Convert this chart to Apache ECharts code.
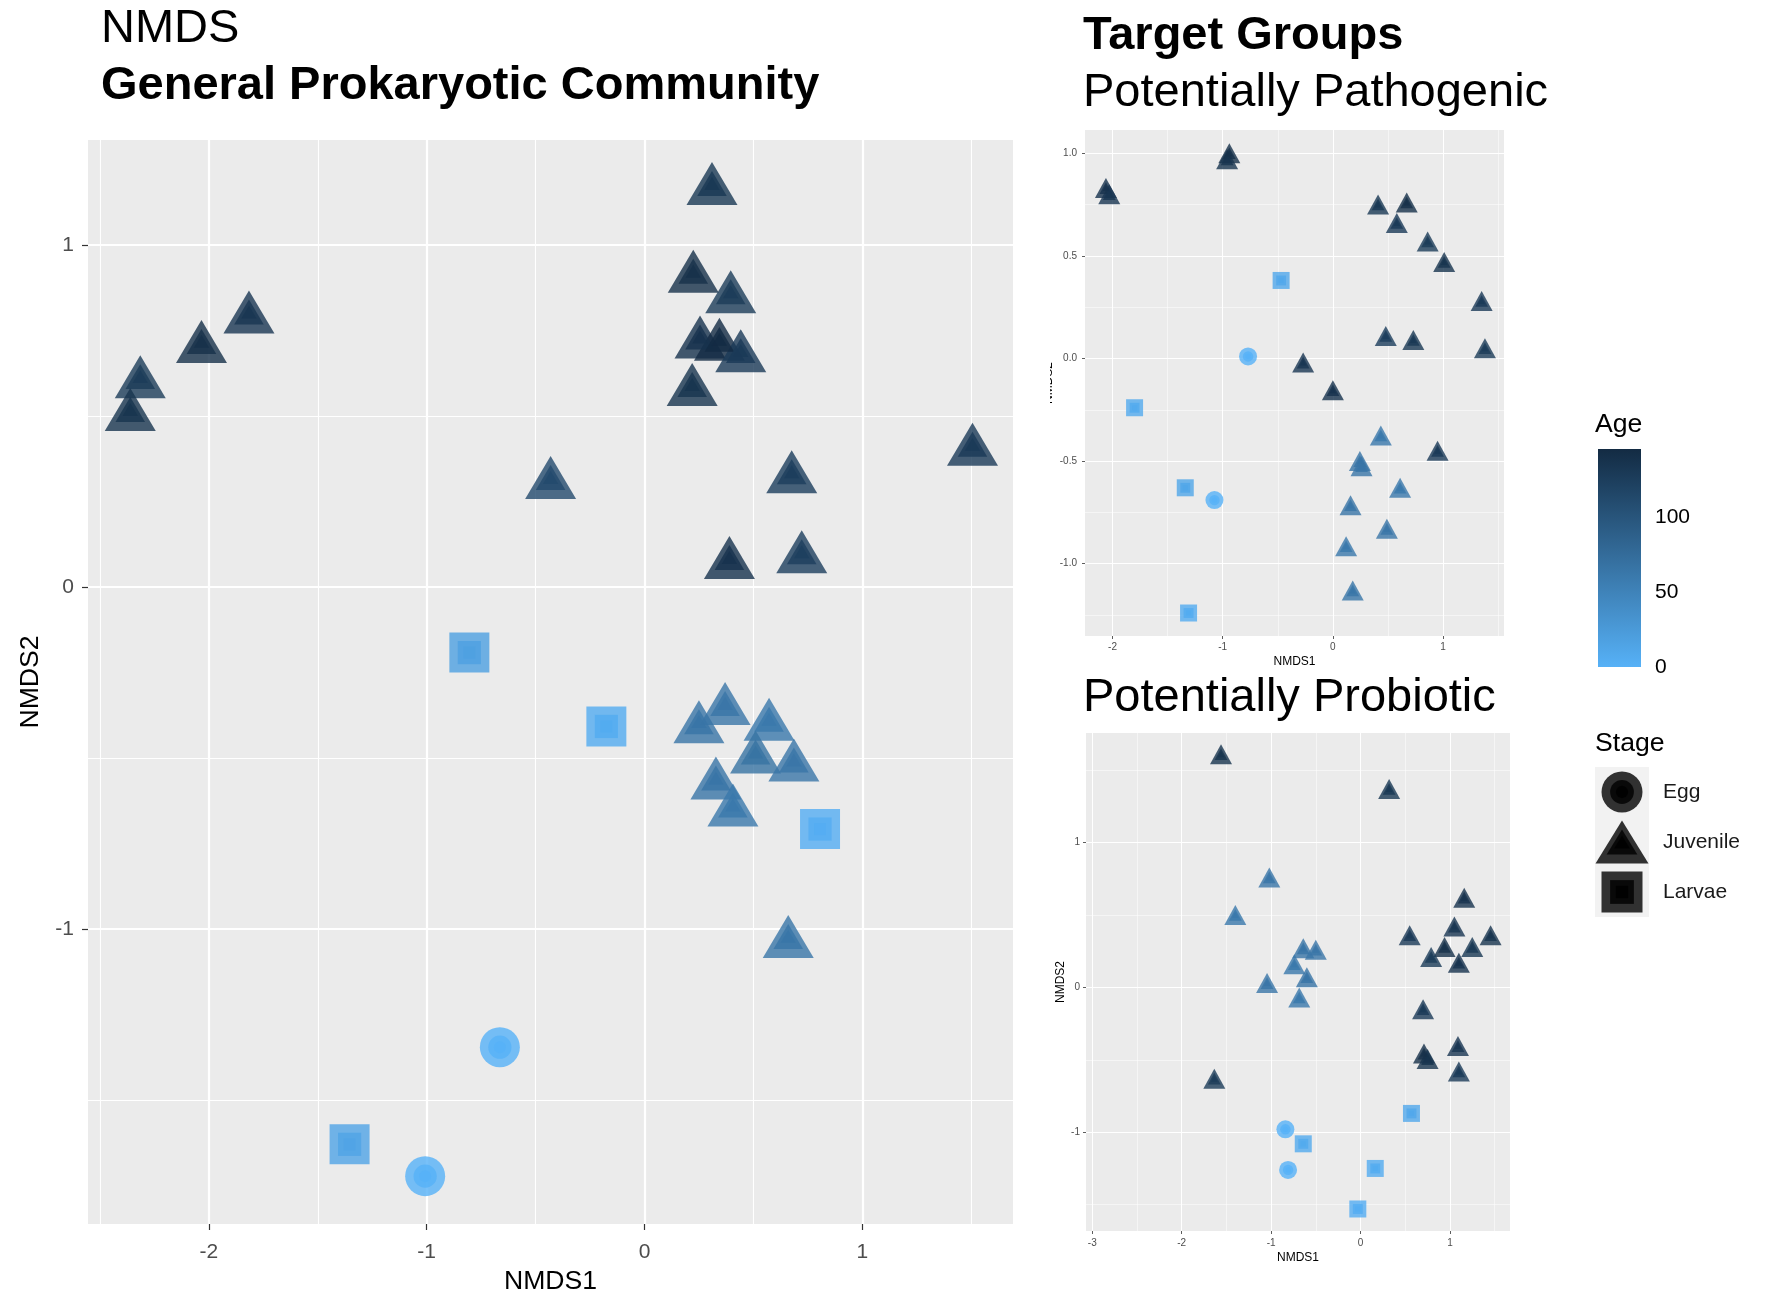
<!DOCTYPE html>
<html>
<head>
<meta charset="utf-8">
<title>NMDS</title>
<script src="https://cdn.jsdelivr.net/npm/echarts@6/dist/echarts.min.js"></script>
<style>
  html, body { margin: 0; background: #fff; }
  #chart { width: 1772px; height: 1306px; }
</style>
</head>
<body>
<div id="chart"></div>
<script>
// General Prokaryotic Community
const mainX = [0.31, 0.224, 0.396, 0.255, 0.344, 0.442, 0.219, -1.816, -2.034, -2.315, -2.361, -0.431, 0.676, 1.506, 0.39, 0.722,
  0.37, 0.25, 0.572, 0.51, 0.686, 0.328, 0.406, 0.66,
  -0.804, -0.175, 0.806, -1.354,
  -0.664, -1.007]
const mainY = [1.18, 0.923, 0.863, 0.731, 0.724, 0.691, 0.592, 0.804, 0.718, 0.615, 0.519, 0.32, 0.337, 0.417, 0.086, 0.103,
  -0.341, -0.394, -0.387, -0.483, -0.506, -0.559, -0.638, -1.022,
  -0.192, -0.408, -0.708, -1.63,
  -1.346, -1.723]
const mainAge = [132, 140, 128, 138, 146, 130, 136, 134, 140, 128, 136, 112, 126, 130, 138, 124,
  64, 66, 62, 68, 64, 66, 62, 65,
  18, 6, 4, 14,
  0, 0]

// Potentially Pathogenic
const pathX = [-2.06, -2.03, -0.94, -0.96, 0.41, 0.67, 0.58, 0.86, 1.01, 1.35, 0.48, 0.73, 1.38, -0.27, 0.0, 0.95,
  0.435, 0.245, 0.26, 0.61, 0.16, 0.49, 0.12, 0.18,
  -0.47, -1.80, -1.34, -1.31,
  -0.77, -1.075]
const pathY = [0.83, 0.80, 1.0, 0.97, 0.75, 0.76, 0.66, 0.57, 0.47, 0.28, 0.11, 0.09, 0.05, -0.02, -0.155, -0.45,
  -0.375, -0.50, -0.525, -0.63, -0.715, -0.83, -0.915, -1.13,
  0.38, -0.24, -0.63, -1.24,
  0.01, -0.69]
const pathAge = [138, 134, 140, 136, 132, 140, 130, 128, 136, 130, 126, 132, 128, 134, 138, 130,
  62, 66, 64, 62, 66, 64, 62, 65,
  10, 8, 12, 6,
  0, 0]

// Potentially Probiotic
const probX = [-1.56, 0.32, 1.16, 1.05, 0.55, 1.455, 0.94, 1.25, 0.79, 1.10, 0.70, 1.09, 0.71, 0.75, 1.10, -1.635,
  -1.02, -1.40, -0.64, -0.50, -0.74, -0.60, -1.045, -0.685,
  0.57, -0.64, 0.165, -0.03,
  -0.84, -0.81]
const probY = [1.61, 1.37, 0.62, 0.42, 0.36, 0.36, 0.28, 0.28, 0.21, 0.17, -0.15, -0.405, -0.457, -0.495, -0.58, -0.63,
  0.76, 0.50, 0.27, 0.26, 0.16, 0.07, 0.03, -0.07,
  -0.87, -1.08, -1.25, -1.53,
  -0.98, -1.26]
const probAge = [136, 132, 138, 134, 130, 136, 140, 132, 128, 138, 130, 134, 140, 136, 130, 128,
  64, 62, 66, 64, 62, 66, 64, 62,
  10, 8, 6, 4,
  0, 0]

// same sampling design in all three ordinations
const stages = [].concat(Array(24).fill('Juvenile'), Array(4).fill('Larvae'), Array(2).fill('Egg'))
const stageNames = ['Egg', 'Juvenile', 'Larvae']

// tick labels
const mainXTicks = [-2, -1, 0, 1]
const mainXMinor = [-2.5, -1.5, -0.5, 0.5, 1.5]
const mainYTicks = [-1, 0, 1]
const mainYMinor = [-1.5, -0.5, 0.5]
const pathXTicks = [-2, -1, 0, 1]
const pathXMinor = [-1.5, -0.5, 0.5, 1.5]
const pathYTicks = [-1, -0.5, 0, 0.5, 1]
const pathYMinor = [-1.25, -0.75, -0.25, 0.25, 0.75]
const probXTicks = [-3, -2, -1, 0, 1]
const probXMinor = [-2.5, -1.5, -0.5, 0.5, 1.5]
const probYTicks = [-1, 0, 1]
const probYMinor = [-1.5, -0.5, 0.5, 1.5]
const ageTicks = [0, 50, 100]
const ageMax = 146

const FONT = '"Liberation Sans", Arial, sans-serif'
const shapeOf = { Egg: 'circle', Juvenile: 'triangle', Larvae: 'rect' }
const layerScale = [1, 0.58, 0.3]

const toRows = (xs, ys, ages) => xs.map((x, i) => [x, ys[i], ages[i], stages[i]])

const pointLayers = (axisIdx, rows, sizes) => layerScale.map(k => ({
  type: 'scatter',
  xAxisIndex: axisIdx,
  yAxisIndex: axisIdx,
  data: rows,
  symbol: v => shapeOf[v[3]],
  symbolSize: v => {
    const s = sizes[v[3]]
    return Array.isArray(s) ? [s[0] * k, s[1] * k] : s * k
  },
  itemStyle: { opacity: 0.8 },
  silent: true
}))

// major axis + a second, hidden one that only carries the minor grid
const axisPair = (dim, grid, min, max, major, minor, o) => [
  {
    gridIndex: grid, type: 'value', min, max,
    position: dim === 'x' ? 'bottom' : 'left',
    axisLine: { show: false, onZero: false },
    axisTick: { customValues: major, length: o.tick, lineStyle: { color: '#333333', width: o.tickW } },
    axisLabel: { customValues: major, color: '#4D4D4D', fontSize: o.label, margin: o.margin, formatter: o.fmt },
    splitLine: { show: true, lineStyle: { color: '#ffffff', width: o.major } },
    name: o.name, nameLocation: 'middle', nameGap: o.gap,
    nameTextStyle: { fontSize: o.title, color: '#000000' }
  },
  {
    gridIndex: grid, type: 'value', min, max,
    position: dim === 'x' ? 'top' : 'right',
    axisLine: { show: false, onZero: false },
    axisTick: { show: false, customValues: minor },
    axisLabel: { show: false },
    splitLine: { show: true, lineStyle: { color: '#ffffff', width: o.minor } }
  }
]

const bigStyle = { tick: 6, tickW: 1.2, label: 21, title: 26.6, major: 2.2, minor: 1.1 }
const smallStyle = { tick: 3, tickW: 0.8, label: 10, title: 12, major: 1, minor: 0.5 }

const xAxes = [
  ...axisPair('x', 0, -2.555, 1.692, mainXTicks, mainXMinor, { ...bigStyle, margin: 18, name: 'NMDS1', gap: 44 }),
  ...axisPair('x', 1, -2.25, 1.553, pathXTicks, pathXMinor, { ...smallStyle, margin: 6, name: 'NMDS1', gap: 20 }),
  ...axisPair('x', 2, -3.07, 1.672, probXTicks, probXMinor, { ...smallStyle, margin: 7, name: 'NMDS1', gap: 21 })
]
const yAxes = [
  ...axisPair('y', 0, -1.863, 1.307, mainYTicks, mainYMinor, { ...bigStyle, margin: 14, name: 'NMDS2', gap: 41 }),
  ...axisPair('y', 1, -1.352, 1.113, pathYTicks, pathYMinor, { ...smallStyle, margin: 8, name: 'NMDS2', gap: 30, fmt: v => v.toFixed(1) }),
  ...axisPair('y', 2, -1.682, 1.757, probYTicks, probYMinor, { ...smallStyle, margin: 6, name: 'NMDS2', gap: 19 })
]
// reorder so axis index i belongs to panel data series
const xAxisList = [xAxes[0], xAxes[2], xAxes[4], xAxes[1], xAxes[3], xAxes[5]]
const yAxisList = [yAxes[0], yAxes[2], yAxes[4], yAxes[1], yAxes[3], yAxes[5]]

// colour bar (grid 3) and shape key (grid 4)
xAxisList.push(
  { gridIndex: 3, type: 'category', data: ['Age'], show: false },
  { gridIndex: 4, type: 'value', min: -1, max: 1, show: false }
)
const barTicks = { customValues: ageTicks, inside: true, length: 8, lineStyle: { color: '#ffffff', width: 1.5 } }
yAxisList.push(
  {
    gridIndex: 3, type: 'value', min: 0, max: ageMax, position: 'right',
    axisLine: { show: false, onZero: false }, splitLine: { show: false }, axisTick: barTicks,
    axisLabel: { customValues: ageTicks, fontSize: 21, color: '#000000', margin: 14 }
  },
  {
    gridIndex: 3, type: 'value', min: 0, max: ageMax, position: 'left',
    axisLine: { show: false, onZero: false }, splitLine: { show: false }, axisTick: barTicks,
    axisLabel: { show: false }
  },
  {
    gridIndex: 4, type: 'category', data: stageNames, inverse: true, position: 'right',
    axisLine: { show: false, onZero: false }, axisTick: { show: false }, splitLine: { show: false },
    axisLabel: { fontSize: 21, color: '#1A1A1A', margin: 14 }
  }
)

const panelSeries = [
  ...pointLayers(0, toRows(mainX, mainY, mainAge), { Egg: 40, Larvae: 40, Juvenile: [51, 43] }),
  ...pointLayers(1, toRows(pathX, pathY, pathAge), { Egg: 18, Larvae: 17, Juvenile: [22, 20] }),
  ...pointLayers(2, toRows(probX, probY, probAge), { Egg: 18, Larvae: 17, Juvenile: [22, 20] })
]

const keySizes = { Egg: 41, Juvenile: [53, 43], Larvae: 41 }
const keySeries = layerScale.map(k => ({
  type: 'scatter', xAxisIndex: 7, yAxisIndex: 8,
  data: stageNames.map(s => [0, s]),
  symbol: v => shapeOf[v[1]],
  symbolSize: v => {
    const s = keySizes[v[1]]
    return Array.isArray(s) ? [s[0] * k, s[1] * k] : s * k
  },
  itemStyle: { color: '#000000', opacity: 0.8 },
  silent: true
}))

const titleText = (text, left, top, bold, size) => ({
  text, left, top, padding: 0,
  textStyle: { fontSize: size || 47, fontWeight: bold ? 'bold' : 'normal', color: '#000000', fontFamily: FONT }
})

const option = {
  animation: false,
  textStyle: { fontFamily: FONT },
  title: [
    titleText('NMDS', 101, 6, false),
    titleText('General Prokaryotic Community', 101, 63, true),
    titleText('Target Groups', 1083, 13, true),
    titleText('Potentially Pathogenic', 1083, 70, false),
    titleText('Potentially Probiotic', 1083, 675, false),
    titleText('Age', 1595, 411, false, 26.6),
    titleText('Stage', 1595, 730, false, 26.6)
  ],
  grid: [
    { left: 88, top: 140, width: 925, height: 1084, show: true, backgroundColor: '#EBEBEB', borderWidth: 0 },
    { left: 1085, top: 130, width: 419, height: 506, show: true, backgroundColor: '#EBEBEB', borderWidth: 0 },
    { left: 1086, top: 733, width: 424, height: 498, show: true, backgroundColor: '#EBEBEB', borderWidth: 0 },
    { left: 1598, top: 449, width: 43, height: 218 },
    { left: 1595, top: 767, width: 54, height: 150, show: true, backgroundColor: '#F2F2F2', borderWidth: 0 }
  ],
  xAxis: xAxisList,
  yAxis: yAxisList,
  visualMap: {
    type: 'continuous', show: false, dimension: 2, min: 0, max: ageMax,
    seriesIndex: [0, 1, 2, 3, 4, 5, 6, 7, 8],
    inRange: { color: ['#56B1F7', '#132B43'] }
  },
  series: [
    ...panelSeries,
    {
      type: 'bar', xAxisIndex: 6, yAxisIndex: 6, data: [ageMax], barWidth: '100%', silent: true,
      itemStyle: {
        color: new echarts.graphic.LinearGradient(0, 0, 0, 1, [
          { offset: 0, color: '#132B43' },
          { offset: 1, color: '#56B1F7' }
        ])
      }
    },
    ...keySeries
  ],
  // the left half of the pathogenic panel's y title is cut off in the figure
  graphic: [
    { type: 'rect', shape: { x: 1028, y: 330, width: 22, height: 110 }, style: { fill: '#ffffff' }, z: 100 }
  ]
}

const chart = echarts.init(document.getElementById('chart'))
chart.setOption(option)
</script>
</body>
</html>
